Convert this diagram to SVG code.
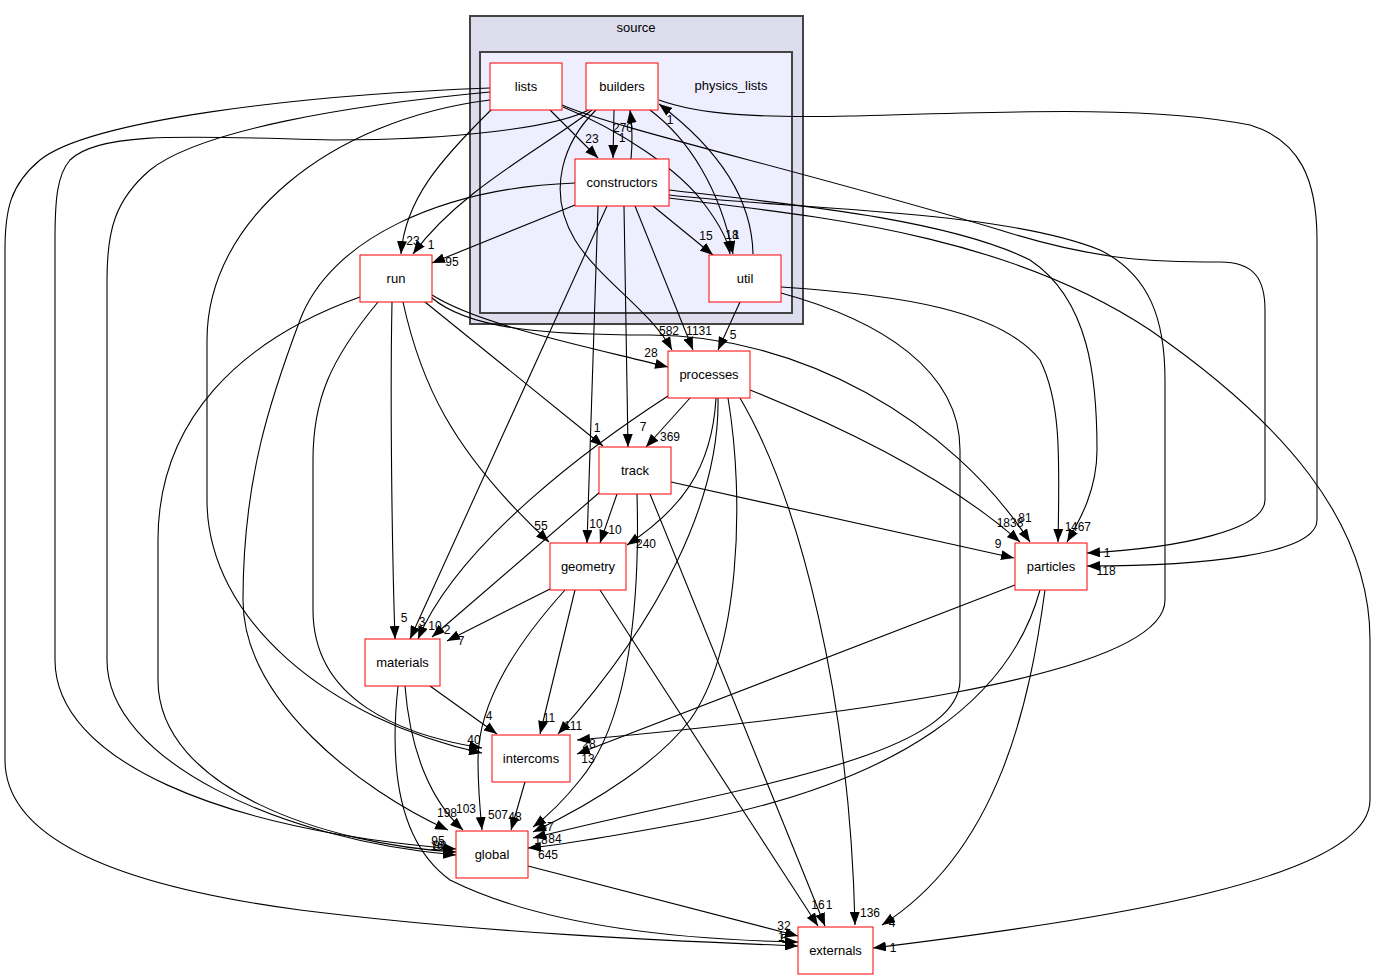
<svg xmlns="http://www.w3.org/2000/svg" width="1373" height="980" viewBox="0 0 1373 980">
<style>
.n rect{fill:#fff;stroke:#ff0000;stroke-width:1}
.n text,.cl text{font-family:"Liberation Sans",Arial,sans-serif;font-size:13px;text-anchor:middle;fill:#000}
.e path{fill:none;stroke:#000;stroke-width:1.1;marker-end:url(#a)}
.lb text{font-family:"Liberation Sans",Arial,sans-serif;font-size:12px;text-anchor:middle;fill:#000}
</style>
<defs>
<marker id="a" markerWidth="13" markerHeight="10" refX="13" refY="5" orient="auto" markerUnits="userSpaceOnUse"><path d="M0,0 L13,5 L0,10 z" fill="#000"/></marker>
</defs>
<rect width="1373" height="980" fill="#fff"/>
<g class="cl" id="cluster_source">
<rect x="470" y="16" width="333" height="308" fill="#ddddee" stroke="#444" stroke-width="2"/>
<text x="636" y="32">source</text>
</g>
<g class="cl" id="cluster_physics_lists">
<rect x="480" y="52" width="312" height="261" fill="#eeeeff" stroke="#444" stroke-width="2"/>
<text x="731" y="90">physics_lists</text>
</g>
<g class="e" id="edges">
<path d="M550,110 L598,158"/>
<path d="M614,110 L613,158"/>
<path d="M631,159 C633,140 632,125 630,110"/>
<path d="M492,109 C440,160 405,200 401,254"/>
<path d="M592,110 C540,150 460,190 413,254"/>
<path d="M575,205 L432,263"/>
<path d="M575,183 C440,188 330,240 300,320 C270,400 243,480 243,600 C243,700 360,790 448,830"/>
<path d="M490,100 C330,120 207,220 207,340 L207,500 C207,620 330,720 482,753"/>
<path d="M360,297 C240,340 158,420 158,540 L158,680 C158,790 330,845 456,852"/>
<path d="M378,302 C330,360 313,400 313,460 L313,610 C313,700 400,735 482,748"/>
<path d="M490,88 C300,95 90,120 40,160 C10,185 5,210 5,250 L5,760 C5,850 150,890 300,910 C500,935 700,942 798,946"/>
<path d="M592,108 C560,128 450,140 333,140 C200,137 100,130 70,160 C57,175 55,200 55,240 L55,660 C55,760 220,830 456,849"/>
<path d="M490,92 C350,105 200,130 150,170 C115,200 107,230 107,280 L107,660 C107,760 280,840 456,855"/>
<path d="M432,298 C470,330 550,335 650,335 C800,335 950,420 1030,542"/>
<path d="M432,295 C480,325 580,345 668,367"/>
<path d="M425,302 L603,446"/>
<path d="M403,302 C420,380 450,450 549,542"/>
<path d="M392,302 C390,400 392,550 395,639"/>
<path d="M607,206 L410,639"/>
<path d="M668,396 C600,440 460,540 418,639"/>
<path d="M600,492 L432,637"/>
<path d="M552,588 L447,641"/>
<path d="M598,206 L587,543"/>
<path d="M617,494 L600,543"/>
<path d="M716,398 C712,470 680,510 627,545"/>
<path d="M624,206 L628,447"/>
<path d="M690,398 L646,447"/>
<path d="M635,206 L693,350"/>
<path d="M596,110 C565,140 545,190 575,240 C600,280 650,310 672,350"/>
<path d="M740,302 L718,350"/>
<path d="M653,206 L713,255"/>
<path d="M563,107 C620,130 680,170 705,205 C720,225 728,240 730,254"/>
<path d="M650,110 C690,140 720,190 733,254"/>
<path d="M753,254 C752,200 720,150 659,104"/>
<path d="M659,100 C700,115 760,118 850,116 C1000,112 1150,105 1250,125 C1300,140 1317,180 1317,240 L1317,520 C1317,555 1200,566 1087,566"/>
<path d="M562,105 C620,130 800,170 1000,230 C1100,262 1160,262 1220,262 C1255,262 1265,280 1265,310 L1265,500 C1265,530 1180,548 1087,553"/>
<path d="M669,190 C800,205 950,220 1030,260 C1090,300 1097,380 1097,450 C1097,490 1080,520 1067,542"/>
<path d="M781,287 C900,295 1000,310 1040,360 C1060,400 1060,450 1058,542"/>
<path d="M669,195 C800,210 1000,210 1100,250 C1150,275 1165,320 1165,380 L1165,600 C1165,680 800,720 577,740"/>
<path d="M669,198 C800,215 1000,230 1150,330 C1280,420 1370,520 1370,640 L1370,800 C1370,880 1100,920 873,948"/>
<path d="M781,293 C880,320 960,370 960,450 L960,680 C960,760 720,790 533,838"/>
<path d="M1015,585 L577,754"/>
<path d="M1040,590 C1010,700 900,780 700,820 C620,835 560,845 528,848"/>
<path d="M1045,590 C1030,700 1000,850 882,925"/>
<path d="M740,398 C800,500 850,700 855,925"/>
<path d="M750,390 C850,430 950,480 1020,542"/>
<path d="M671,482 L1014,558"/>
<path d="M650,494 L825,926"/>
<path d="M600,590 L818,926"/>
<path d="M565,590 C520,640 478,700 478,760 C478,790 480,810 482,830"/>
<path d="M575,590 L540,734"/>
<path d="M430,686 L497,734"/>
<path d="M405,686 C410,750 430,800 463,830"/>
<path d="M398,686 C390,760 395,840 450,880 C550,930 700,940 798,942"/>
<path d="M528,866 L798,936"/>
<path d="M525,782 L511,830"/>
<path d="M718,398 C720,500 660,620 558,734"/>
<path d="M728,398 C745,500 740,650 690,720 C660,760 600,800 533,832"/>
<path d="M637,494 C640,600 630,720 580,780 C560,805 545,818 533,827"/>
</g>
<g class="lb" id="labels">
<text x="592" y="143">23</text>
<text x="622" y="142">1</text>
<text x="623" y="132">270</text>
<text x="413" y="245">23</text>
<text x="431" y="249">1</text>
<text x="452" y="266">95</text>
<text x="447" y="817">198</text>
<text x="474" y="744">40</text>
<text x="438" y="845">95</text>
<text x="440" y="850">80</text>
<text x="437" y="850">16</text>
<text x="1025" y="522">81</text>
<text x="651" y="357">28</text>
<text x="597" y="432">1</text>
<text x="541" y="530">55</text>
<text x="404" y="622">5</text>
<text x="422" y="626">3</text>
<text x="435" y="630">10</text>
<text x="447" y="634">2</text>
<text x="461" y="645">7</text>
<text x="596" y="528">10</text>
<text x="615" y="534">10</text>
<text x="646" y="548">240</text>
<text x="643" y="431">7</text>
<text x="670" y="441">369</text>
<text x="699" y="335">1131</text>
<text x="669" y="335">582</text>
<text x="733" y="339">5</text>
<text x="706" y="240">15</text>
<text x="732" y="239">18</text>
<text x="736" y="239">1</text>
<text x="670" y="124">1</text>
<text x="1107" y="557">1</text>
<text x="1106" y="575">118</text>
<text x="1068" y="531">1</text>
<text x="1081" y="531">467</text>
<text x="589" y="748">28</text>
<text x="893" y="952">1</text>
<text x="588" y="763">13</text>
<text x="548" y="859">645</text>
<text x="892" y="927">4</text>
<text x="870" y="917">136</text>
<text x="1010" y="527">1838</text>
<text x="998" y="548">9</text>
<text x="829" y="909">1</text>
<text x="818" y="909">16</text>
<text x="498" y="819">507</text>
<text x="549" y="722">11</text>
<text x="489" y="720">4</text>
<text x="466" y="813">103</text>
<text x="781" y="941">1</text>
<text x="784" y="943">5</text>
<text x="784" y="930">32</text>
<text x="515" y="821">48</text>
<text x="573" y="730">111</text>
<text x="547" y="831">57</text>
<text x="541" y="844">18</text>
<text x="555" y="843">84</text>
</g>
<g class="n" id="node_lists"><rect x="490" y="63" width="72" height="47"/><text x="526" y="91">lists</text></g>
<g class="n" id="node_builders"><rect x="586" y="63" width="72" height="47"/><text x="622" y="91">builders</text></g>
<g class="n" id="node_constructors"><rect x="575" y="159" width="94" height="47"/><text x="622" y="187">constructors</text></g>
<g class="n" id="node_util"><rect x="709" y="255" width="72" height="47"/><text x="745" y="283">util</text></g>
<g class="n" id="node_run"><rect x="360" y="255" width="72" height="47"/><text x="396" y="283">run</text></g>
<g class="n" id="node_processes"><rect x="668" y="351" width="82" height="47"/><text x="709" y="379">processes</text></g>
<g class="n" id="node_track"><rect x="599" y="447" width="72" height="47"/><text x="635" y="475">track</text></g>
<g class="n" id="node_geometry"><rect x="550" y="543" width="76" height="47"/><text x="588" y="571">geometry</text></g>
<g class="n" id="node_particles"><rect x="1015" y="543" width="72" height="47"/><text x="1051" y="571">particles</text></g>
<g class="n" id="node_materials"><rect x="365" y="639" width="75" height="47"/><text x="402.5" y="667">materials</text></g>
<g class="n" id="node_intercoms"><rect x="492" y="735" width="78" height="47"/><text x="531" y="763">intercoms</text></g>
<g class="n" id="node_global"><rect x="456" y="831" width="72" height="47"/><text x="492" y="859">global</text></g>
<g class="n" id="node_externals"><rect x="798" y="927" width="75" height="47"/><text x="835.5" y="955">externals</text></g>
</svg>
